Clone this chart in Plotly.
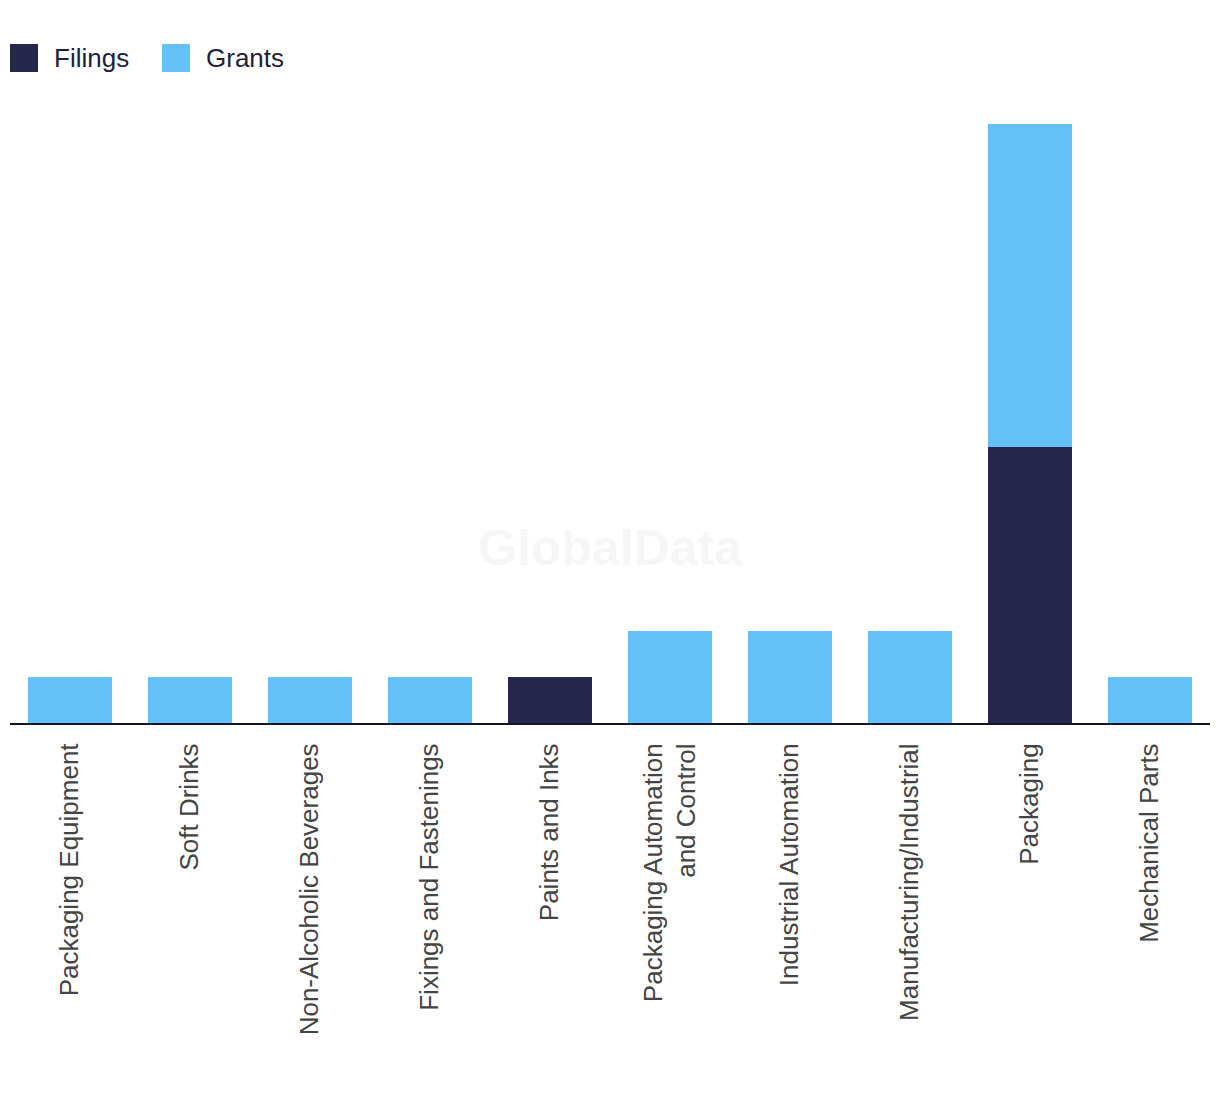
import plotly.graph_objects as go

categories = [
    "Packaging Equipment",
    "Soft Drinks",
    "Non-Alcoholic Beverages",
    "Fixings and Fastenings",
    "Paints and Inks",
    "Packaging Automation<br>and Control",
    "Industrial Automation",
    "Manufacturing/Industrial",
    "Packaging",
    "Mechanical Parts",
]
filings = [0, 0, 0, 0, 1, 0, 0, 0, 6, 0]
grants = [1, 1, 1, 1, 0, 2, 2, 2, 7, 1]
series_names = ["Filings", "Grants"]
series_colors = ["#26274A", "#63C1F8"]

W, H = 1220, 1094
OFF = 8  # page body offset
ML, MR, MT = 10 - OFF, 10 + OFF, 124 - OFF
plot_w = 1200
plot_h = 599
MB = H - MT - plot_h

fig = go.Figure()
for name, vals, col in zip(series_names, [filings, grants], series_colors):
    fig.add_trace(go.Bar(x=categories, y=vals, name=name, marker_color=col,
                         marker_line_width=0, showlegend=False))

# manual legend (big square swatches); coordinates in target-picture pixels
def px_x(p):
    return (p - 10) / plot_w

def px_y(p):
    return (723 - p) / plot_h

shapes = []
annotations = []
legend_x = [10, 162]
for name, col, lx in zip(series_names, series_colors, legend_x):
    shapes.append(dict(type="rect", xref="paper", yref="paper",
                       x0=px_x(lx), x1=px_x(lx + 28), y0=px_y(72), y1=px_y(44),
                       fillcolor=col, line_width=0))
    annotations.append(dict(text=name, xref="paper", yref="paper",
                            x=px_x(lx + 42), y=px_y(58), xanchor="left", yanchor="middle",
                            showarrow=False,
                            font=dict(family="Liberation Sans, Arial, sans-serif", size=26, color="#1E1E3A")))

annotations.append(dict(text="<b>GlobalData</b>", xref="paper", yref="paper",
                        x=px_x(610), y=px_y(548), xanchor="center", yanchor="middle", showarrow=False,
                        font=dict(family="Liberation Sans, Arial, sans-serif", size=50, color="#F6F6F6")))

fig.update_layout(
    barmode="stack",
    bargap=0.3,
    width=W, height=H,
    margin=dict(l=ML, r=MR, t=MT, b=MB, pad=0),
    plot_bgcolor="white", paper_bgcolor="white",
    shapes=shapes, annotations=annotations,
    showlegend=False,
)
fig.update_xaxes(
    showline=True, linecolor="#14142B", linewidth=2,
    showgrid=False, ticks="", tickangle=-90,
    tickfont=dict(family="Liberation Sans, Arial, sans-serif", size=26, color="#444444"),
    ticklabelstandoff=8,
)
fig.update_yaxes(range=[0, 13], visible=False, showgrid=False, zeroline=False)

fig.write_html("out.html")
